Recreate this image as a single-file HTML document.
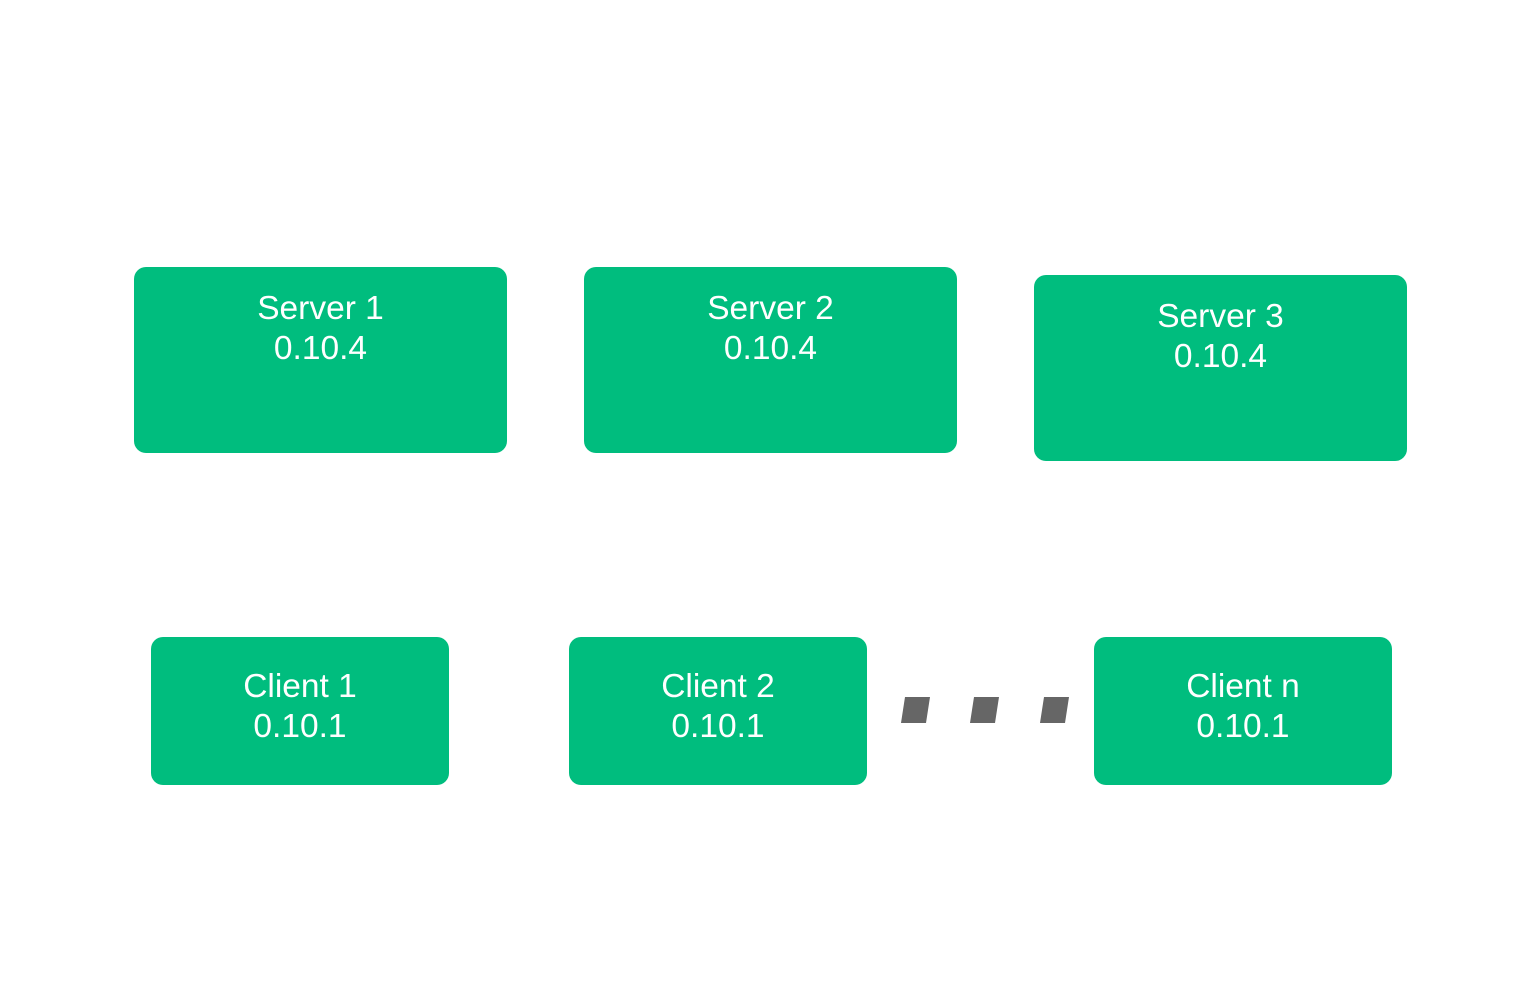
<!DOCTYPE html>
<html><head><style>
body{margin:0;width:1530px;height:994px;background:#fff;position:relative;overflow:hidden;font-family:"Liberation Sans",sans-serif}
.b{position:absolute;background:#00bd7e;border-radius:12px;color:#fff;text-align:center;font-size:33.5px;line-height:40px;box-sizing:border-box}
.s{height:186px;width:373px;padding-top:22px}
.c{height:148px;width:298px;padding-top:30px}
</style></head><body>
<div class="b s" style="left:134px;top:267px">Server 1<br>0.10.4</div>
<div class="b s" style="left:584px;top:267px">Server 2<br>0.10.4</div>
<div class="b s" style="left:1034px;top:275px">Server 3<br>0.10.4</div>
<div class="b c" style="left:151px;top:637px">Client 1<br>0.10.1</div>
<div class="b c" style="left:569px;top:637px">Client 2<br>0.10.1</div>
<div class="b c" style="left:1094px;top:637px">Client n<br>0.10.1</div>
<svg style="position:absolute;left:0;top:0" width="1530" height="994">
<g fill="#666">
<polygon points="901,723 905,697 930,697 926,723"/>
<polygon points="970,723 974,697 999,697 995,723"/>
<polygon points="1040,723 1044,697 1069,697 1065,723"/>
</g></svg>
</body></html>
